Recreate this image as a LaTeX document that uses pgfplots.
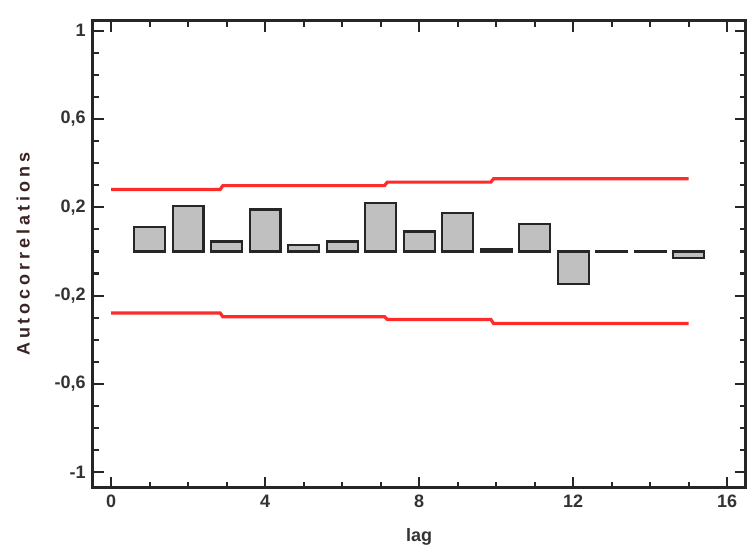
\documentclass[border=0pt]{standalone}
\usepackage{pgfplots}
\pgfplotsset{compat=1.18}
\usepackage{fontspec}
\setmainfont{Liberation Sans}
\newfontfamily\spacedfont[LetterSpace=22]{Liberation Sans}
\definecolor{barfill}{HTML}{C0C0C0}
\definecolor{limred}{HTML}{FF2A2A}
\definecolor{labdark}{HTML}{3A2424}
\begin{document}
\begin{tikzpicture}[x=1pt,y=1pt]
\useasboundingbox (-46.35,-29.65) rectangle (327.65,243.85);
\begin{axis}[
  at={(0,0)}, anchor=south west,
  scale only axis, width=326.5pt, height=233.5pt,
  xmin=-0.48, xmax=16.48, ymin=-1.07, ymax=1.045,
  xtick={0,4,8,12,16},
  ytick={-1,-0.6,-0.2,0.2,0.6,1},
  yticklabels={-1,{-0,6},{-0,2},{0,2},{0,6},1},
  minor x tick num=3, minor y tick num=3,
  tick align=inside,
  major tick length=5.5pt, minor tick length=3pt,
  axis line style={line width=1.3pt, black!85},
  tick style={line width=1.1pt, black!85},
  /pgf/number format/assume math mode=true,
  tick label style={font=\small\bfseries, black!80},
  xlabel={lag}, ylabel={Autocorrelations},
  xlabel style={at={(axis description cs:0.5,0)}, anchor=center, yshift=-24.6pt, font=\small\bfseries, black!80},
  ylabel style={at={(axis description cs:0,0.5)}, anchor=center, yshift=34.8pt, font=\spacedfont\small\bfseries, labdark},
]
\addplot[ybar, bar width=0.8, fill=barfill, draw=black!85, line width=1.1pt] coordinates {
(1,0.11) (2,0.205) (3,0.045) (4,0.19) (5,0.03) (6,0.045) (7,0.22) (8,0.09)
(9,0.173) (10,0.01) (11,0.123) (12,-0.147) (13,0.002) (14,0.002) (15,-0.03)
};
\addplot[limred, line width=1.6pt] coordinates {
(0,0.281) (2.83,0.281) (2.9,0.298) (7.1,0.298) (7.17,0.314) (9.86,0.314) (9.93,0.329) (15,0.329)
};
\addplot[limred, line width=1.6pt] coordinates {
(0,-0.279) (2.83,-0.279) (2.9,-0.296) (7.1,-0.296) (7.17,-0.308) (9.86,-0.308) (9.93,-0.326) (15,-0.326)
};
\end{axis}
\end{tikzpicture}
\end{document}
